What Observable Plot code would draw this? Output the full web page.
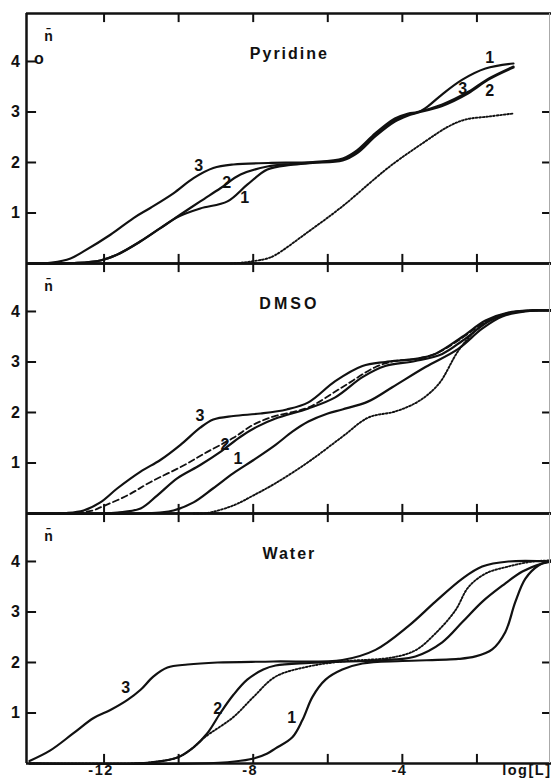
<!DOCTYPE html>
<html><head><meta charset="utf-8">
<script src="https://cdn.jsdelivr.net/npm/d3@7"></script>
<script src="https://cdn.jsdelivr.net/npm/@observablehq/plot@0.6"></script>
<style>
body{margin:0;background:#fff}
#chart{width:551px;height:780px;overflow:hidden}
#chart svg{display:block}
#chart text{letter-spacing:1.5px}
</style></head><body><div id="chart"></div>
<script>
// axes
const xDomain = [-14.08, 0];
const yDomain = [0, 4.95];
const xTicks = [-12, -10, -8, -6, -4, -2];
const xTickLabels = [{x: -12, label: "-12"}, {x: -8, label: "-8"}, {x: -4, label: "-4"}];
const xAxisTitle = "log[L]";
const yTicksLeft = [1, 2, 3, 4];
const yTicksRight = [1, 2, 3];
const yLabel = "n\u0304";
const panelTitles = ["Pyridine", "DMSO", "Water"];

// Pyridine  [log L, n]
const pyr1 = [[-14,0],[-12.8,0.01],[-12.1,0.06],[-11.64,0.18],[-11.02,0.44],[-10.49,0.7],[-10.0,0.93],[-9.42,1.09],[-8.69,1.23],[-8.16,1.56],[-7.62,1.86],[-7.0,1.95],[-6.4,1.99],[-5.6,2.04],[-5.2,2.19],[-4.72,2.52],[-4.2,2.81],[-3.84,2.93],[-3.55,3.0],[-3.3,3.12],[-2.93,3.35],[-2.39,3.64],[-1.77,3.86],[-1.02,3.96]];
const pyr2 = [[-14,0],[-12.8,0.01],[-12.1,0.06],[-11.64,0.18],[-11.02,0.44],[-10.49,0.7],[-9.95,0.97],[-9.42,1.23],[-8.88,1.49],[-8.34,1.76],[-7.62,1.92],[-7.0,1.97],[-6.4,2.0],[-5.6,2.06],[-5.2,2.22],[-4.72,2.55],[-4.2,2.84],[-3.84,2.95],[-3.6,2.99],[-2.93,3.12],[-2.23,3.37],[-1.69,3.64],[-1.02,3.88]];
const pyr3 = [[-14,0],[-13.4,0.02],[-12.9,0.1],[-12.55,0.24],[-11.83,0.57],[-11.21,0.9],[-10.76,1.1],[-10.14,1.39],[-9.6,1.69],[-9.07,1.89],[-8.53,1.96],[-7.6,1.99],[-6.4,2.01],[-5.6,2.08],[-5.2,2.25],[-4.72,2.58],[-4.2,2.87],[-3.84,2.97],[-3.6,3.0],[-2.93,3.15],[-2.23,3.4],[-1.69,3.66],[-1.02,3.9]];
const pyrDot = [[-8.6,0],[-8.26,0.02],[-7.62,0.1],[-7.4,0.17],[-6.52,0.63],[-5.61,1.13],[-4.72,1.69],[-4.27,1.96],[-3.38,2.42],[-2.77,2.71],[-2.31,2.85],[-1.69,2.91],[-1.02,2.97]];
const pyrLabels = [{x:-9.44,y:1.94,t:"3"},{x:-8.69,y:1.60,t:"2"},{x:-8.21,y:1.29,t:"1"},{x:-1.64,y:4.08,t:"1"},{x:-2.36,y:3.45,t:"3"},{x:-1.64,y:3.41,t:"2"}];
const pyrMarker = [{x:-13.73,y:4.06,t:"o"}];

// DMSO
const dm1 = [[-14,0],[-11,0.0],[-10.5,0.02],[-10.14,0.06],[-9.6,0.22],[-9.07,0.5],[-8.53,0.8],[-7.99,1.06],[-7.4,1.36],[-6.95,1.62],[-6.52,1.82],[-6.0,1.98],[-5.61,2.06],[-4.91,2.22],[-4.27,2.5],[-3.38,2.9],[-2.5,3.26],[-1.86,3.66],[-1.32,3.9],[-0.7,4.0],[0,4.02]];
const dm2 = [[-14,0],[-12,0.0],[-11.64,0.02],[-11.02,0.1],[-10.57,0.36],[-10.03,0.7],[-9.42,0.96],[-8.88,1.22],[-8.34,1.52],[-7.89,1.72],[-7.4,1.88],[-6.52,2.08],[-5.8,2.3],[-5.07,2.7],[-4.46,2.92],[-3.65,3.02],[-2.93,3.16],[-2.39,3.42],[-1.69,3.8],[-1.16,3.96],[-0.5,4.02],[0,4.02]];
const dm3 = [[-14,0],[-13.0,0.01],[-12.55,0.06],[-12.1,0.22],[-11.64,0.5],[-11.02,0.83],[-10.49,1.06],[-9.95,1.36],[-9.42,1.7],[-9.07,1.86],[-8.53,1.93],[-7.8,1.98],[-7.1,2.06],[-6.52,2.2],[-5.8,2.62],[-5.07,2.92],[-4.46,3.0],[-3.65,3.06],[-3.12,3.16],[-2.39,3.5],[-1.77,3.82],[-1.16,3.98],[-0.5,4.02],[0,4.02]];
const dmDash = [[-14,0],[-12.8,0.01],[-12.3,0.06],[-12.1,0.12],[-11.37,0.36],[-10.76,0.62],[-9.87,0.95],[-9.23,1.22],[-8.53,1.5],[-7.99,1.76],[-7.46,1.92],[-7.0,2.0],[-6.52,2.1],[-5.61,2.5],[-4.72,2.9],[-4.2,3.02],[-3.65,3.06],[-3.12,3.16],[-2.39,3.48],[-1.77,3.8],[-1.16,3.97],[-0.5,4.02],[0,4.02]];
const dmDot = [[-9.6,0],[-9.23,0.01],[-8.53,0.16],[-7.99,0.36],[-7.4,0.6],[-6.52,1.02],[-5.61,1.52],[-4.91,1.9],[-4.19,2.02],[-3.57,2.22],[-3.03,2.56],[-2.5,3.22],[-2.04,3.62],[-1.59,3.86],[-1.16,3.96],[-0.5,4.02],[0,4.02]];
const dmLabels = [{x:-9.41,y:1.94,t:"3"},{x:-8.74,y:1.35,t:"2"},{x:-8.39,y:1.09,t:"1"}];

// Water
const w1 = [[-14,0],[-9.5,0.0],[-8.5,0.04],[-7.99,0.1],[-7.62,0.2],[-7.4,0.3],[-6.95,0.52],[-6.68,0.86],[-6.41,1.32],[-6.06,1.66],[-5.61,1.86],[-5.07,1.98],[-4.0,2.03],[-2.5,2.07],[-2.04,2.12],[-1.59,2.26],[-1.24,2.6],[-0.97,3.2],[-0.7,3.66],[-0.35,3.92],[0,4.02]];
const w2 = [[-14,0],[-11.2,0.0],[-10.76,0.02],[-10.03,0.12],[-9.6,0.32],[-9.23,0.6],[-8.88,1.0],[-8.53,1.36],[-8.16,1.66],[-7.73,1.86],[-7.4,1.94],[-6.5,1.99],[-5.0,2.03],[-4.2,2.06],[-3.65,2.12],[-2.93,2.4],[-2.39,2.8],[-1.86,3.2],[-1.32,3.52],[-0.78,3.8],[-0.25,3.96],[0,4.0]];
const w3 = [[-14,0.05],[-13.44,0.26],[-12.82,0.6],[-12.28,0.9],[-11.83,1.06],[-11.37,1.26],[-11.02,1.46],[-10.68,1.72],[-10.3,1.9],[-9.76,1.96],[-8.96,2.0],[-7.46,2.02],[-5.61,2.05],[-4.72,2.25],[-3.84,2.72],[-3.12,3.2],[-2.39,3.66],[-1.86,3.9],[-1.16,4.0],[0,4.0]];
const wDot = [[-14,0],[-11.2,0.0],[-10.76,0.02],[-10.03,0.12],[-9.6,0.32],[-9.3,0.52],[-8.53,0.92],[-7.99,1.32],[-7.4,1.72],[-6.52,1.92],[-5.61,2.02],[-4.27,2.1],[-3.65,2.24],[-3.12,2.57],[-2.58,3.03],[-2.23,3.49],[-1.77,3.76],[-1.16,3.9],[-0.5,4.0],[0,4.02]];
const wLabels = [{x:-11.40,y:1.49,t:"3"},{x:-8.93,y:1.09,t:"2"},{x:-6.95,y:0.91,t:"1"}];

const lineStyle = {
  solid: {strokeWidth: 2.2},
  dashed: {strokeWidth: 1.8, strokeDasharray: "6,3.5"},
  dotted: {strokeWidth: 1.9, strokeDasharray: "1.6,1.9"}
};

const panelsCfg = [
  {title: panelTitles[0], series: [[pyr1,"solid"],[pyr2,"solid"],[pyr3,"solid"],[pyrDot,"dotted"]], labels: pyrLabels.concat(pyrMarker), height: 263, mt: 13, mb: 0},
  {title: panelTitles[1], series: [[dm1,"solid"],[dm2,"solid"],[dm3,"solid"],[dmDash,"dashed"],[dmDot,"dotted"]], labels: dmLabels, height: 250, mt: 0, mb: 0},
  {title: panelTitles[2], series: [[w1,"solid"],[w2,"solid"],[w3,"solid"],[wDot,"dotted"]], labels: wLabels, height: 267, mt: 0, mb: 17, bottomAxis: true}
];

const ink = "#111";
const bold = {fontWeight: "bold", fill: ink};
const container = document.getElementById("chart");

for (const cfg of panelsCfg) {
  const marks = [];
  for (const [pts, st] of cfg.series) {
    marks.push(Plot.line(pts, {x: d => d[0], y: d => d[1], curve: "catmull-rom", stroke: ink, ...lineStyle[st]}));
  }
  // frame
  marks.push(Plot.ruleY([yDomain[0], yDomain[1]], {y: d => d, stroke: ink, strokeWidth: 2.5}));
  marks.push(Plot.ruleX([xDomain[0]], {x: d => d, stroke: ink, strokeWidth: 2.5}));
  marks.push(Plot.ruleX([xDomain[1]], {x: d => d, stroke: "#aaa", strokeWidth: 1, dx: -2}));
  // ticks (inward)
  marks.push(Plot.ruleX(xTicks, {x: d => d, y1: 0, y2: 0.18, stroke: ink, strokeWidth: 2}));
  marks.push(Plot.ruleX(xTicks, {x: d => d, y1: yDomain[1] - 0.18, y2: yDomain[1], stroke: ink, strokeWidth: 2}));
  marks.push(Plot.ruleY(yTicksLeft, {y: d => d, x1: xDomain[0], x2: xDomain[0] + 0.27, stroke: ink, strokeWidth: 2}));
  marks.push(Plot.ruleY(yTicksRight, {y: d => d, x1: -0.24, x2: -0.05, stroke: ink, strokeWidth: 2}));
  // tick labels
  marks.push(Plot.text(yTicksLeft, {x: xDomain[0], y: d => d, text: d => String(d), dx: -5, textAnchor: "end", fontSize: 16, ...bold}));
  // title, y label, curve labels
  marks.push(Plot.text([cfg.title], {x: -7.03, y: 4.16, text: d => d, fontSize: 16, ...bold}));
  marks.push(Plot.text([yLabel], {x: -13.49, y: 4.5, text: d => d, fontSize: 14, ...bold}));
  marks.push(Plot.text(cfg.labels, {x: "x", y: "y", text: "t", fontSize: 16, ...bold}));
  if (cfg.bottomAxis) {
    marks.push(Plot.text(xTickLabels, {x: "x", y: 0, text: "label", dy: 1.5, dx: -3, lineAnchor: "top", fontSize: 14.5, ...bold}));
    marks.push(Plot.text([xAxisTitle], {x: 0, y: 0, text: d => d, dy: 1.5, dx: 0, lineAnchor: "top", textAnchor: "end", fontSize: 14.5, ...bold}));
  }
  const svg = Plot.plot({
    width: 551,
    height: cfg.height,
    marginLeft: 26,
    marginRight: 0,
    marginTop: cfg.mt,
    marginBottom: cfg.mb,
    x: {domain: xDomain, axis: null},
    y: {domain: yDomain, axis: null},
    style: {fontFamily: "'Liberation Sans', Arial, Helvetica, sans-serif", background: "transparent", overflow: "visible"},
    marks
  });
  const sel = d3.select(svg).selectAll("text");
  sel.filter(function() { return panelTitles.includes(this.textContent); })
    .style("letter-spacing", function() { return this.textContent === "DMSO" ? "3px" : "2px"; });
  sel.filter(function() { return this.textContent === yLabel; }).style("letter-spacing", "0px");
  container.appendChild(svg);
}
</script></body></html>
